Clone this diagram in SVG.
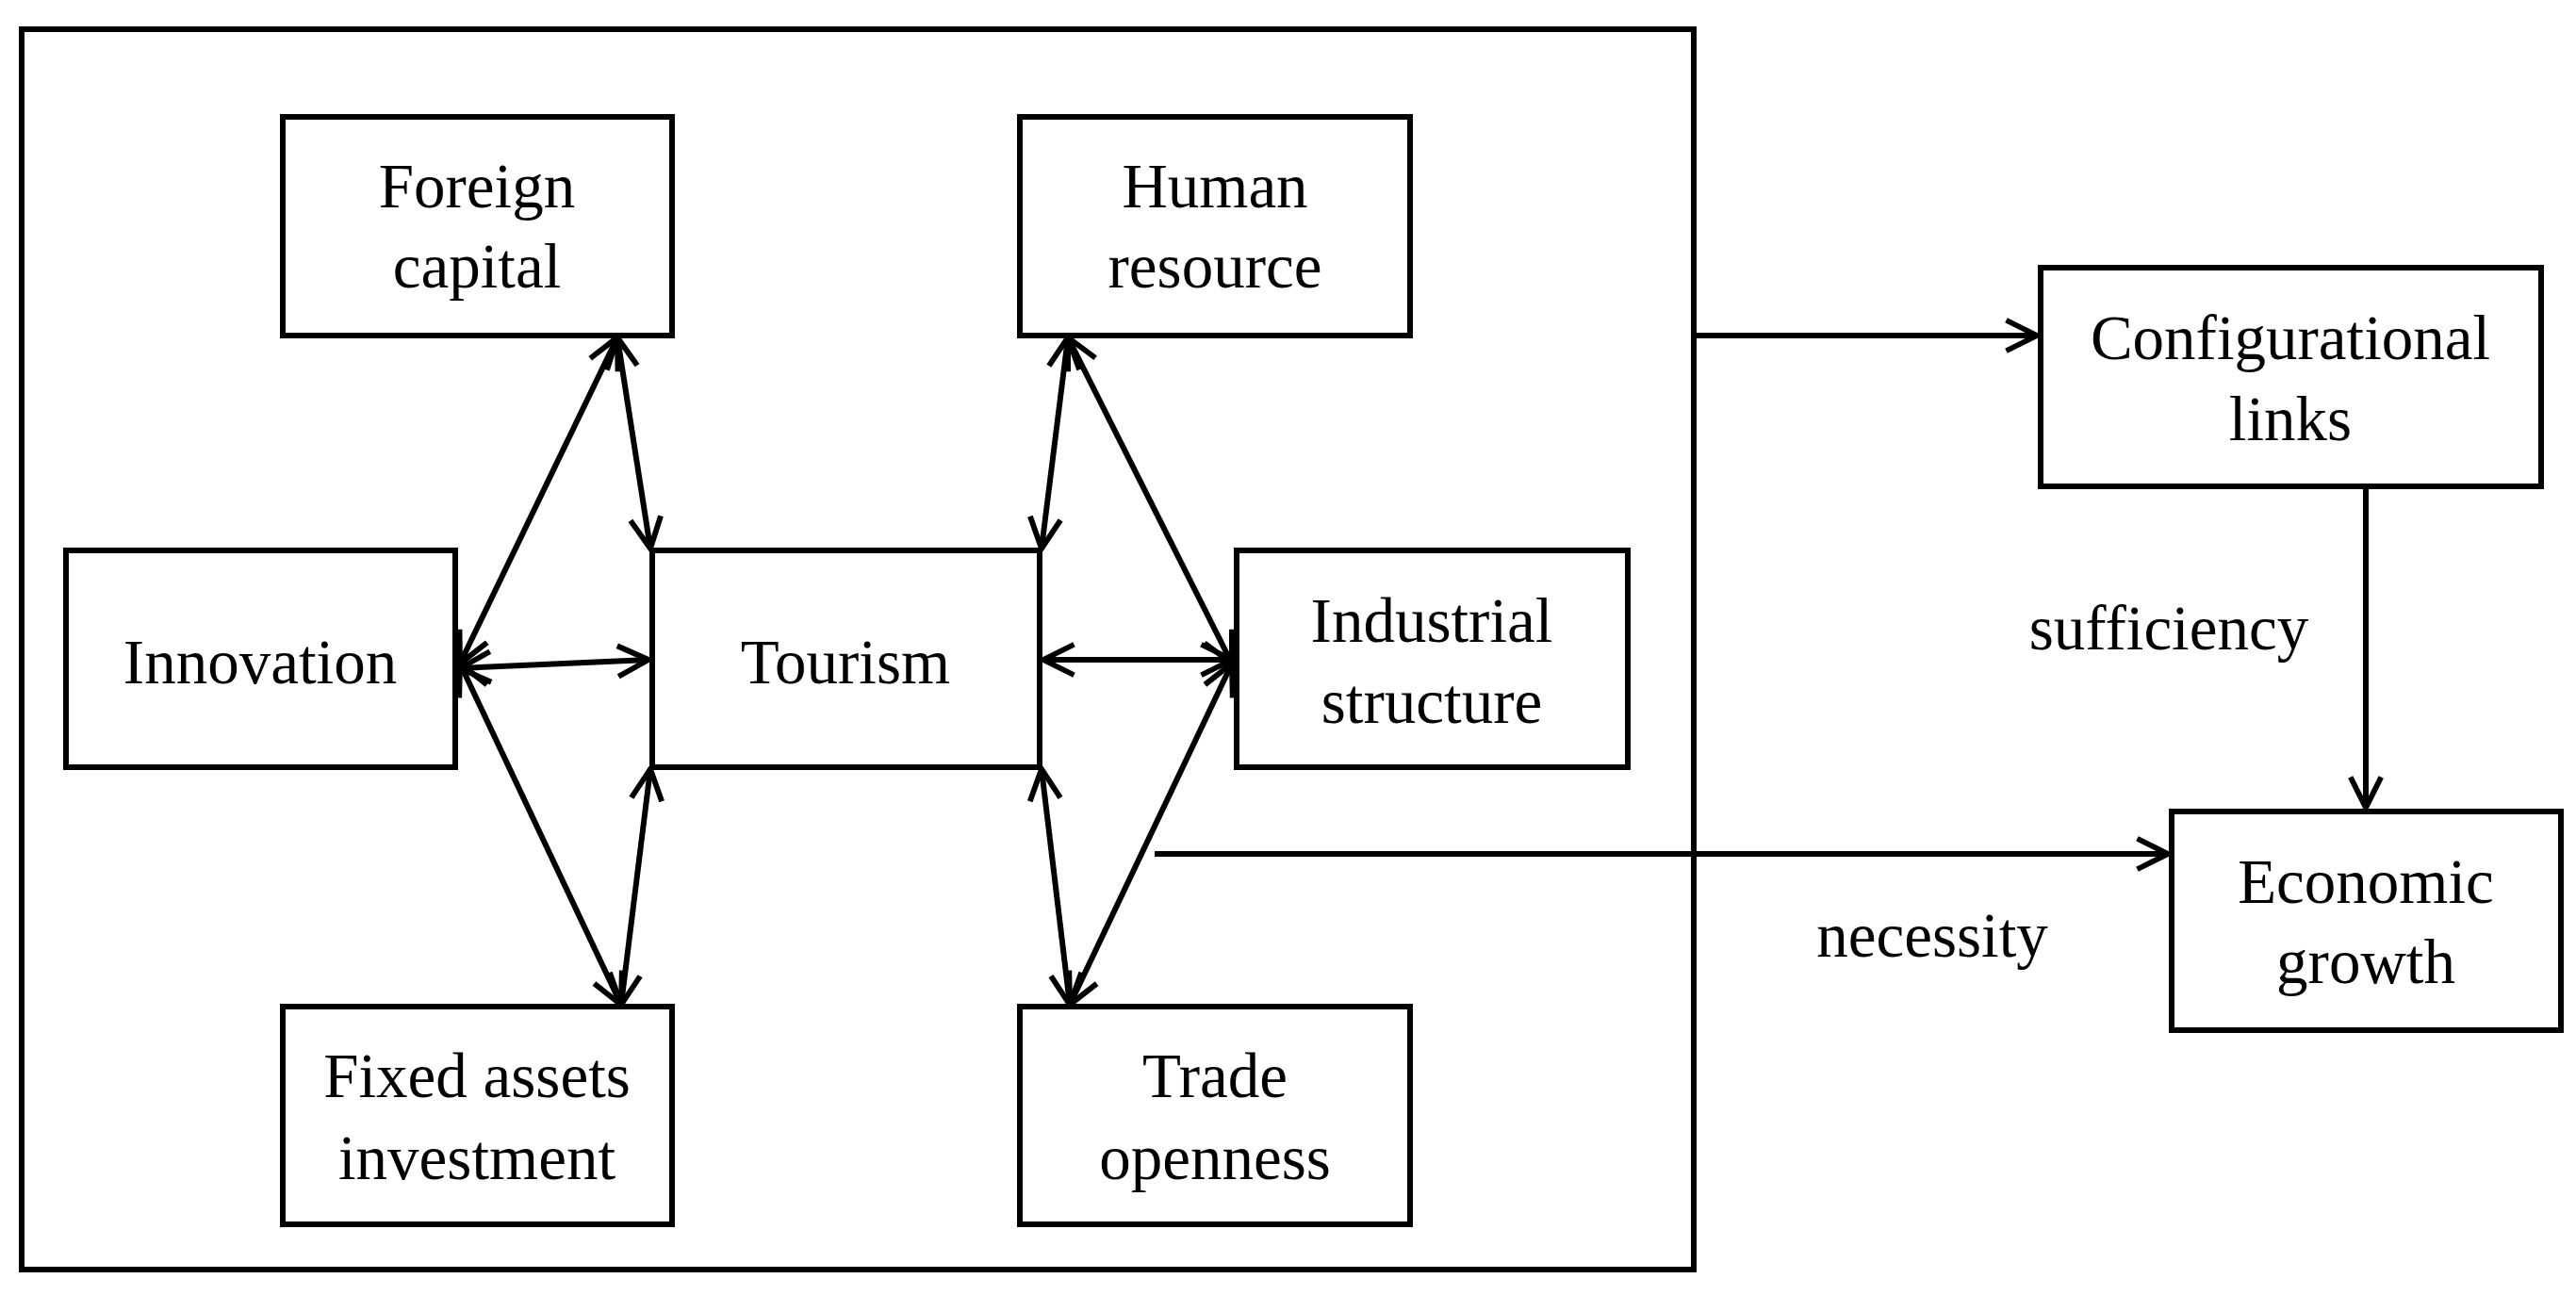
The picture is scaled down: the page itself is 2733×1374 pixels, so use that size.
<svg xmlns="http://www.w3.org/2000/svg" width="2733" height="1374" viewBox="0 0 2733 1374">
<style>
rect{fill:#fff;stroke:#000;stroke-width:6}
text{font-family:"Liberation Serif",serif;font-size:67px;text-anchor:middle;dominant-baseline:central;fill:#000}
#connectors line{stroke:#000;stroke-width:6;fill:none}
.b{marker-start:url(#ah);marker-end:url(#ah)}
.e{marker-end:url(#ah)}
</style>
<defs>
<marker id="ah" viewBox="0 0 12 12" refX="11" refY="6" markerWidth="6.5" markerHeight="6.5" markerUnits="strokeWidth" orient="auto-start-reverse">
<path d="M1,1 L11,6 L1,11" fill="none" stroke="#000" stroke-width="1.8"/>
</marker>
</defs>
<rect id="outer" x="23" y="31" width="1774" height="1316" style="fill:none"/>
<g id="connectors">
<line class="b" x1="655" y1="358" x2="488" y2="704"/>
<line class="b" x1="655" y1="358" x2="690" y2="582"/>
<line class="b" x1="488" y1="709" x2="688" y2="700"/>
<line class="b" x1="488" y1="704" x2="659" y2="1066"/>
<line class="b" x1="659" y1="1066" x2="690" y2="816"/>
<line class="b" x1="1133" y1="358" x2="1105" y2="582"/>
<line class="b" x1="1133" y1="358" x2="1307" y2="704"/>
<line class="b" x1="1107" y1="700" x2="1307" y2="700"/>
<line class="b" x1="1307" y1="704" x2="1135" y2="1066"/>
<line class="b" x1="1135" y1="1066" x2="1105" y2="816"/>
<line class="e" x1="1797" y1="356" x2="2161" y2="356"/>
<line class="e" x1="1225" y1="906" x2="2300" y2="906"/>
<line class="e" x1="2510" y1="516" x2="2510" y2="857"/>
</g>
<g id="foreign"><rect x="300" y="124" width="413" height="232"/><text x="506" y="197">Foreign</text><text x="506" y="282">capital</text></g>
<g id="human"><rect x="1082" y="124" width="414" height="232"/><text x="1289" y="197">Human</text><text x="1289" y="282">resource</text></g>
<g id="innovation"><rect x="70" y="584" width="413" height="230"/><text x="276" y="702">Innovation</text></g>
<g id="tourism"><rect x="692" y="584" width="411" height="230"/><text x="897" y="702">Tourism</text></g>
<g id="industrial"><rect x="1312" y="584" width="415" height="230"/><text x="1519" y="658">Industrial</text><text x="1519" y="744">structure</text></g>
<g id="fixed"><rect x="300" y="1068" width="413" height="231"/><text x="506" y="1141">Fixed assets</text><text x="506" y="1228">investment</text></g>
<g id="trade"><rect x="1082" y="1068" width="414" height="231"/><text x="1289" y="1141">Trade</text><text x="1289" y="1228">openness</text></g>
<g id="config"><rect x="2165" y="284" width="531" height="232"/><text x="2430" y="358">Configurational</text><text x="2430" y="444">links</text></g>
<g id="economic"><rect x="2304" y="861" width="413" height="232"/><text x="2510" y="935">Economic</text><text x="2510" y="1020">growth</text></g>
<text x="2301" y="666">sufficiency</text>
<text x="2050" y="992">necessity</text>
</svg>
